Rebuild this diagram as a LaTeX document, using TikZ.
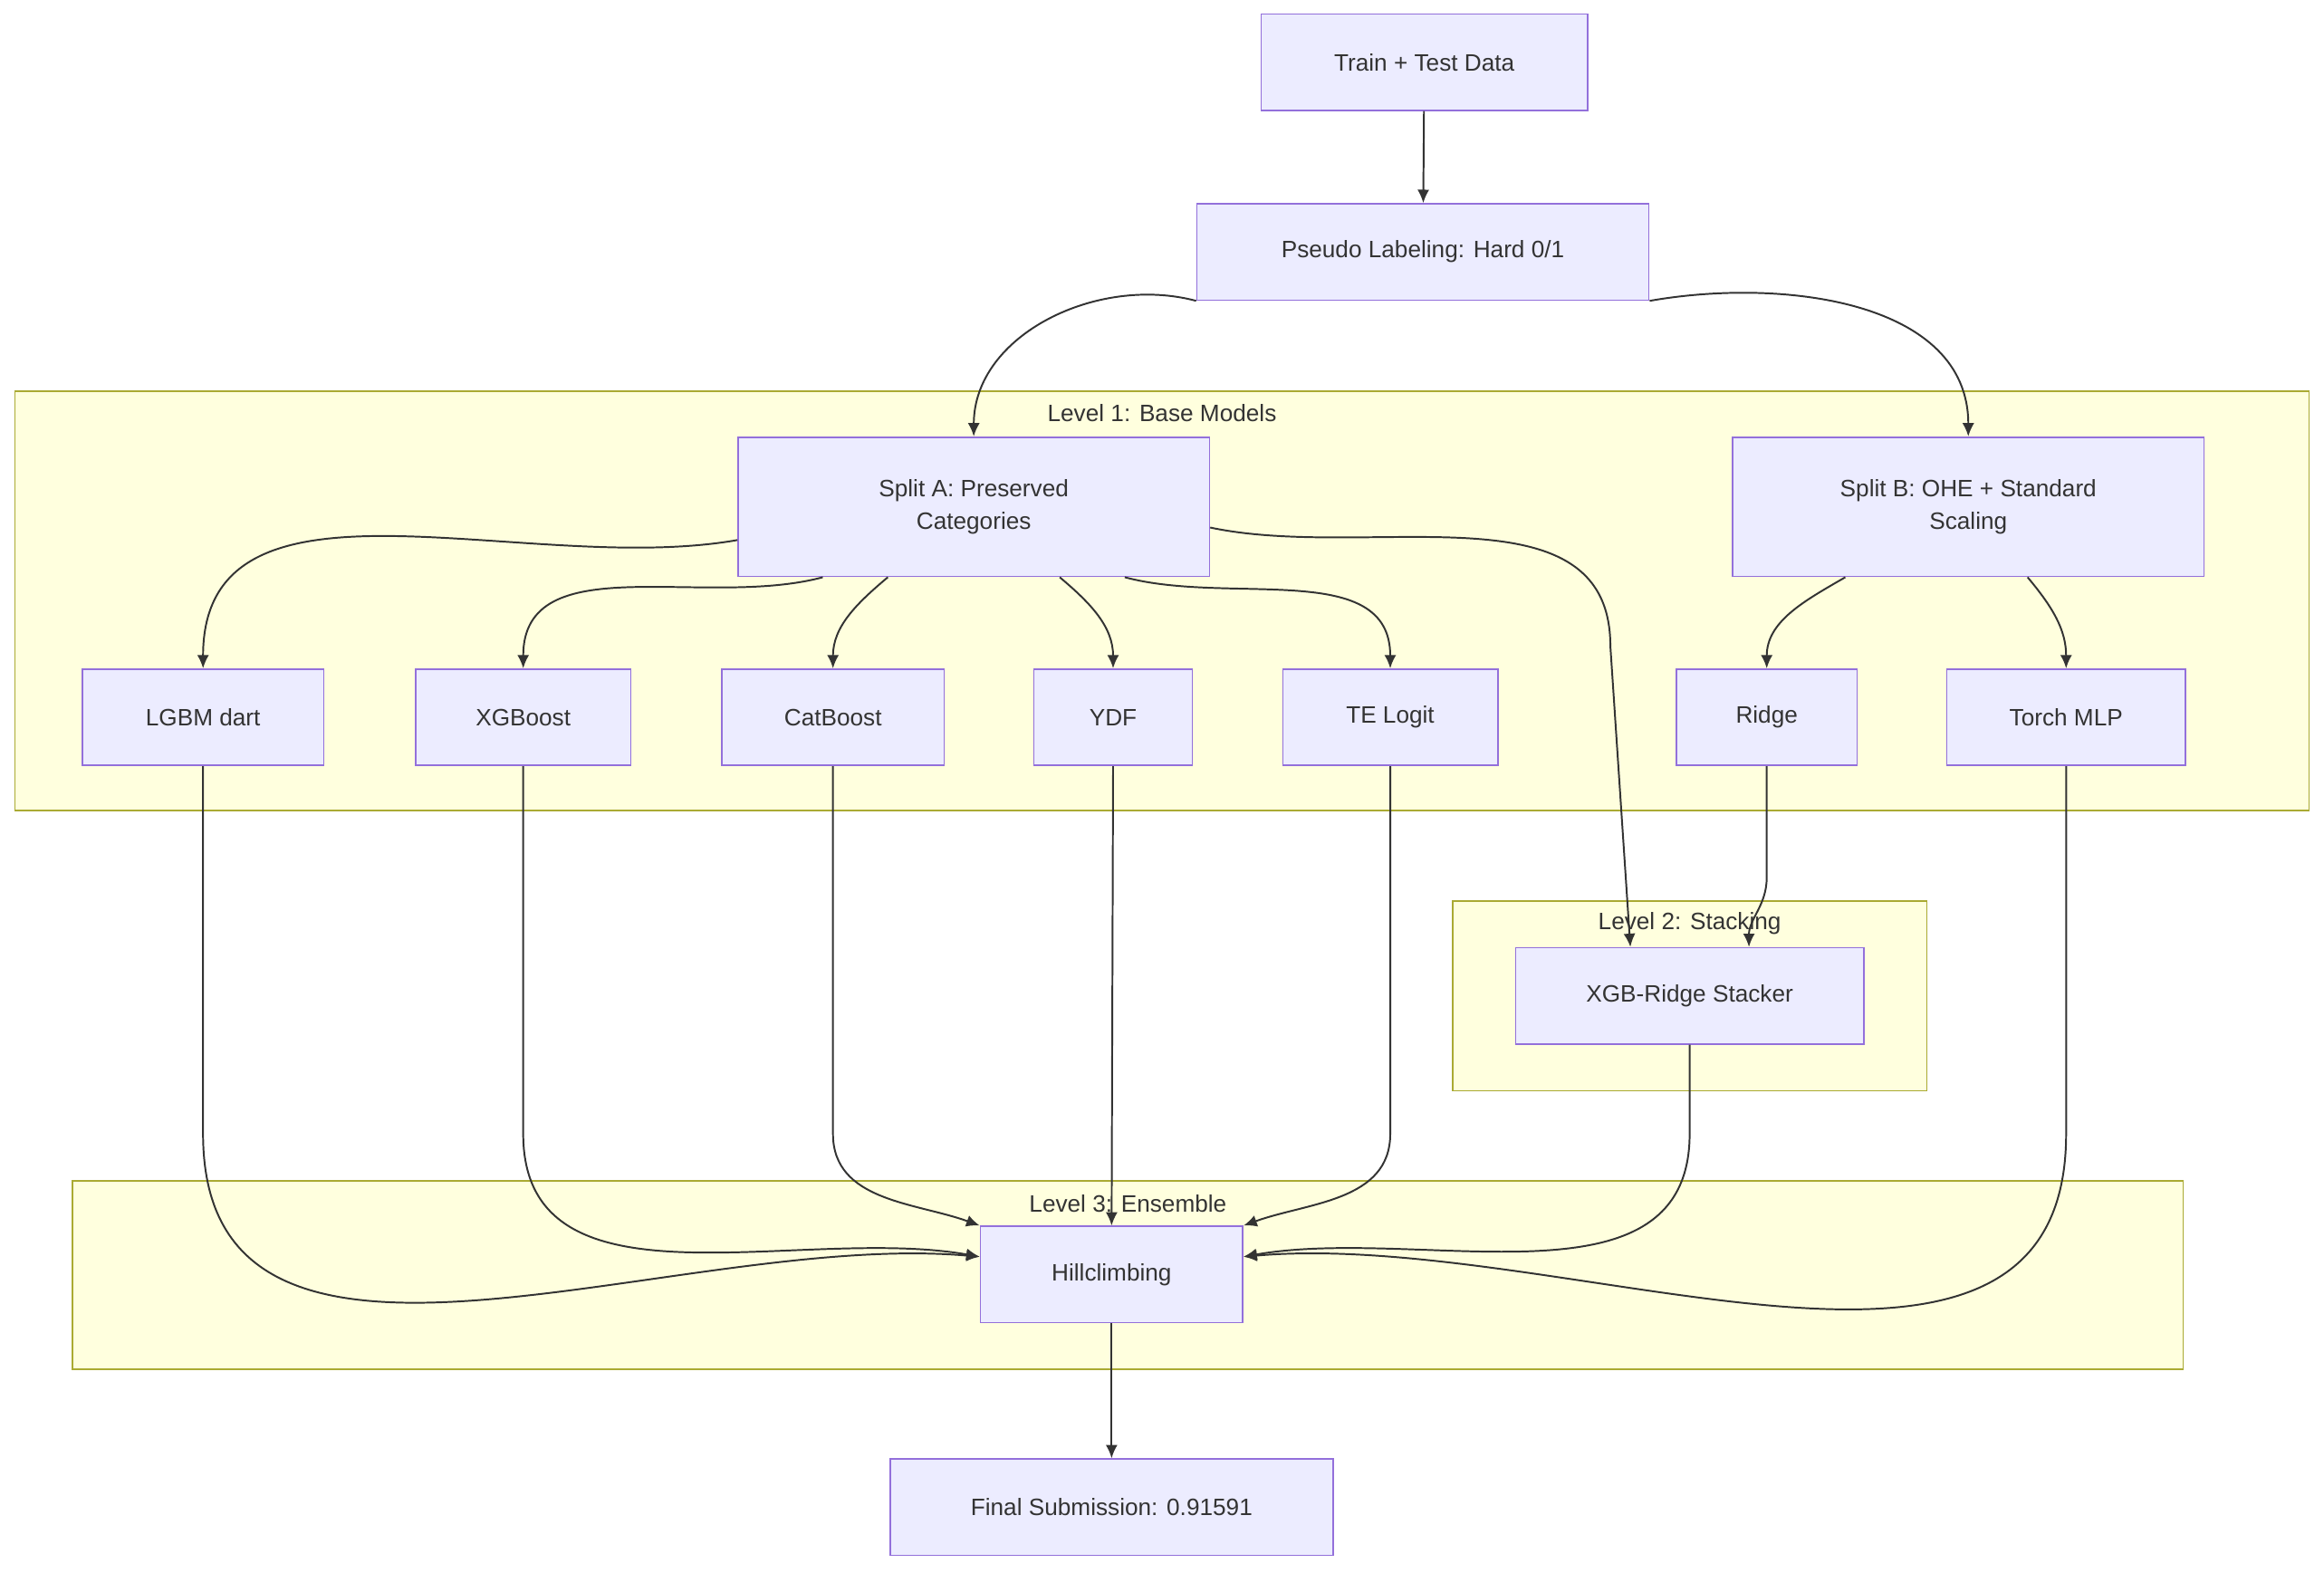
\documentclass[tikz,border=0pt]{standalone}
\usepackage{fontspec}
\setmainfont{Liberation Sans}
\usetikzlibrary{arrows.meta,calc}
\definecolor{nodefill}{HTML}{ECECFF}
\definecolor{nodeline}{HTML}{9370DB}
\definecolor{clusfill}{HTML}{FFFFDE}
\definecolor{clusline}{HTML}{AAAA33}
\definecolor{edge}{HTML}{333333}
\tikzset{
  box/.style={draw=nodeline,fill=nodefill,line width=1pt,minimum height=65pt,align=center,font=\fontsize{16}{22}\selectfont,text=edge},
  cluster/.style={draw=clusline,fill=clusfill,line width=1pt},
  clab/.style={font=\fontsize{16}{20}\selectfont,text=edge},
  link/.style={draw=edge,line width=1.2pt,-{Latex[length=9pt,width=8pt]}}
}
\begin{document}
\begin{tikzpicture}[x=1pt,y=-1pt]
	\useasboundingbox (0,0) rectangle (1568,1061);

	% clusters
	\draw[cluster] (10,264) rectangle (1558,547);
	\node[clab] (lev1) at (784,279) {Level 1: Base Models};
	\draw[cluster] (980,608) rectangle (1300,736);
	\node[clab] (lev2) at (1140,623) {Level 2: Stacking};
	\draw[cluster] (49,797) rectangle (1473,924);
	\node[clab] (lev3) at (761,812) {Level 3: Ensemble};

	% nodes
	\node[box,minimum width=220pt] (data) at (961,42) {Train + Test Data};
	\node[box,minimum width=305pt] (pseudo) at (960,170) {Pseudo Labeling: Hard 0/1};
	\node[box,minimum width=318pt,minimum height=94pt] (splitA) at (657,342) {Split A: Preserved\\Categories};
	\node[box,minimum width=318pt,minimum height=94pt] (splitB) at (1328,342) {Split B: OHE + Standard\\Scaling};
	\node[box,minimum width=163pt] (lgbm) at (137,484) {LGBM dart};
	\node[box,minimum width=145pt] (xgb) at (353,484) {XGBoost};
	\node[box,minimum width=150pt] (cat) at (562,484) {CatBoost};
	\node[box,minimum width=107pt] (ydf) at (751,484) {YDF};
	\node[box,minimum width=145pt] (telogit) at (938,484) {TE Logit};
	\node[box,minimum width=122pt] (ridge) at (1192,484) {Ridge};
	\node[box,minimum width=161pt] (mlp) at (1394,484) {Torch MLP};
	\node[box,minimum width=235pt] (stacker) at (1140,672) {XGB-Ridge Stacker};
	\node[box,minimum width=177pt] (hill) at (750,860) {Hillclimbing};
	\node[box,minimum width=299pt] (final) at (750,1017) {Final Submission: 0.91591};

	\coordinate (bend) at (0,765);
	\coordinate (hillL) at ($(hill.west)+(0,-12)$);
	\coordinate (hillR) at ($(hill.east)+(0,-12)$);

	% edges
	\draw[link] (data) -- (pseudo);
	\draw[link] (pseudo.south west) to[out=165,in=90] (splitA.north);
	\draw[link] (pseudo.south east) to[out=10,in=90] (splitB.north);
	\draw[link] (splitA.188) to[out=190,in=90] (lgbm.north);
	\draw[link] (splitA.205) to[out=195,in=90] (xgb.north);
	\draw[link] ($(splitA.south)+(-58,0)$) to[out=220,in=90] (cat.north);
	\draw[link] ($(splitA.south)+(58,0)$) to[out=-40,in=90] (ydf.north);
	\draw[link] (splitA.335) to[out=-15,in=90] (telogit.north);
	\draw[link] (splitA.355) to[out=-12,in=90] ($(splitA.355)+(270,80)$) -- ($(stacker.north)+(-40,0)$);
	\draw[link] ($(splitB.south)+(-83,0)$) to[out=210,in=90] (ridge.north);
	\draw[link] ($(splitB.south)+(40,0)$) to[out=-50,in=90] (mlp.north);
	\draw[link] (ridge.south) -- ($(ridge.south)+(0,75)$) to[out=-90,in=90] ($(stacker.north)+(40,0)$);
	\draw[link] (lgbm.south) -- (lgbm.south |- bend) to[out=-90,in=175] (hillL);
	\draw[link] (xgb.south) -- (xgb.south |- bend) to[out=-90,in=170] (hillL);
	\draw[link] (cat.south) -- (cat.south |- bend) to[out=-90,in=160] (hill.north west);
	\draw[link] (ydf.south) -- (hill.north);
	\draw[link] (telogit.south) -- (telogit.south |- bend) to[out=-90,in=20] (hill.north east);
	\draw[link] (stacker.south) -- (stacker.south |- bend) to[out=-90,in=10] (hillR);
	\draw[link] (mlp.south) -- (mlp.south |- bend) to[out=-90,in=5] (hillR);
	\draw[link] (hill) -- (final);

\end{tikzpicture}
\end{document}
